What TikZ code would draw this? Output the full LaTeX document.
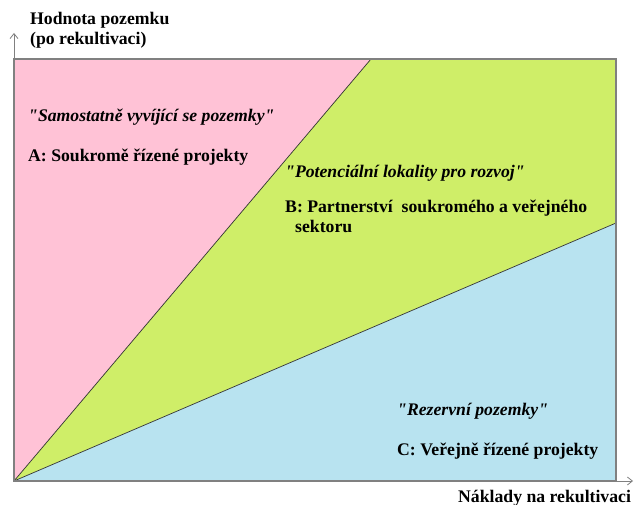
\documentclass[tikz,border=0pt]{standalone}
\usepackage{fontspec}
\setmainfont{Liberation Serif}
\usetikzlibrary{arrows.meta}
\definecolor{zonepink}{RGB}{255,194,214}
\definecolor{zonegreen}{RGB}{207,238,104}
\definecolor{zoneblue}{RGB}{184,227,240}
\definecolor{framegray}{RGB}{128,128,128}
\newcommand{\sq}{\textquotedbl}
\begin{document}
\begin{tikzpicture}[x=1pt,y=-1pt,
  lbl/.style={anchor=base west,inner sep=0pt,font=\fontsize{17.7}{20}\selectfont\bfseries},
  quote/.style={lbl,font=\fontsize{17.7}{20}\selectfont\bfseries\itshape},
  axis/.style={draw=framegray,line width=0.8pt,-{Straight Barb[length=5pt,width=8pt]}},
  split/.style={draw=black!80,line width=0.7pt}]
\useasboundingbox (0,0) rectangle (634,505);
% corners of the plotted region
\coordinate (O) at (14,481);
\coordinate (TL) at (14,59);
\coordinate (TR) at (616,59);
\coordinate (BR) at (616,481);
\coordinate (P) at (371,59);
\coordinate (Q) at (616,223);
% three zones
\fill[zonepink] (O) -- (TL) -- (P) -- cycle;
\fill[zonegreen] (O) -- (P) -- (TR) -- (Q) -- cycle;
\fill[zoneblue] (O) -- (Q) -- (BR) -- cycle;
\draw[split] (O) -- (P);
\draw[split] (O) -- (Q);
\draw[framegray,line width=1.3pt] (O) -- (TL) -- (TR) -- (BR) -- cycle;
% axes
\coordinate (ytip) at (14,33);
\coordinate (xtip) at (633,481);
\draw[axis] (O) -- (ytip);
\draw[axis] (O) -- (xtip);
% axis titles
\node[lbl] (ylab1) at (30,25) {Hodnota pozemku};
\node[lbl] (ylab2) at (30,45) {(po rekultivaci)};
\node[lbl] (xlab) at (458,502) {Náklady na rekultivaci};
% zone labels
\node[quote] (qa) at (28,122) {\sq Samostatně vyvíjící se pozemky\sq};
\node[lbl] (la) at (28,162) {A: Soukromě řízené projekty};
\node[quote] (qb) at (285,178) {\sq Potenciální lokality pro rozvoj\sq};
\node[lbl] (lb1) at (285,212) {B: Partnerství\ \ soukromého a veřejného};
\node[lbl] (lb2) at (295,232) {sektoru};
\node[quote] (qc) at (397,415) {\sq Rezervní pozemky\sq};
\node[lbl] (lc) at (397,455) {C: Veřejně řízené projekty};
\end{tikzpicture}
\end{document}
